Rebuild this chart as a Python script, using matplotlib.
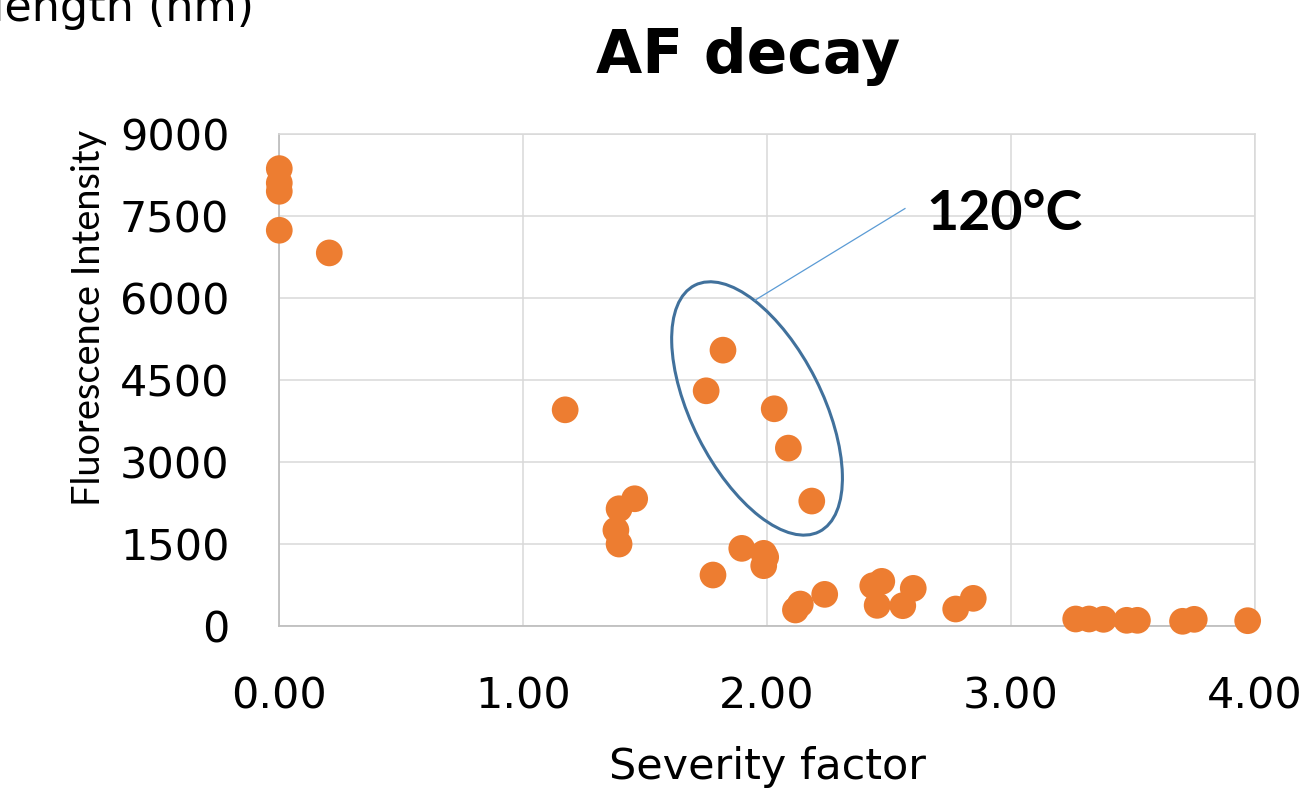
import matplotlib
matplotlib.use("Agg")
import matplotlib.pyplot as plt
from matplotlib.patches import Ellipse
from matplotlib.transforms import ScaledTranslation

# ---- data ----
severity = [0.0, 0.0, 0.0, 0.0, 0.205, 1.172,
            1.819, 1.750, 2.029, 2.087, 2.183,
            1.457, 1.393, 1.380, 1.393, 1.778, 1.896, 1.986, 1.994, 1.986,
            2.116, 2.136, 2.236, 2.433, 2.470, 2.451, 2.599, 2.556, 2.773, 2.845,
            3.265, 3.320, 3.379, 3.474, 3.518, 3.703, 3.751, 3.970]
intensity = [8372, 8109, 7957, 7244, 6829, 3957,
             5049, 4305, 3976, 3256, 2287,
             2329, 2146, 1756, 1500, 933, 1421, 1330, 1260, 1104,
             293, 402, 579, 737, 817, 378, 689, 372, 311, 506,
             128, 128, 122, 104, 104, 86, 122, 97]
x_ticks = [0, 1, 2, 3, 4]
x_tick_labels = ["0.00", "1.00", "2.00", "3.00", "4.00"]
y_ticks = [0, 1500, 3000, 4500, 6000, 7500, 9000]
y_tick_labels = ["0", "1500", "3000", "4500", "6000", "7500", "9000"]
title = "AF decay"
x_label = "Severity factor"
y_label = "Fluorescence Intensity"
note = "120°C"
corner_text = "Wavelength (nm)"

ORANGE = "#ED7D31"
GRID = "#D9D9D9"

plt.rcParams["font.family"] = ["DejaVu Sans"]

fig = plt.figure(figsize=(13.02, 7.91), dpi=100)
ax = fig.add_axes([0.2145, 0.2086, 0.7494, 0.6216])

ax.scatter(severity, intensity, s=370, color=ORANGE, edgecolors="none",
           zorder=3, clip_on=False)

ax.set_xlim(0, 4)
ax.set_ylim(0, 9000)
ax.set_xticks(x_ticks)
ax.set_xticklabels(x_tick_labels)
ax.set_yticks(y_ticks)
ax.set_yticklabels(y_tick_labels)
ax.tick_params(axis="both", length=0, labelsize=31, colors="black")
ax.tick_params(axis="x", pad=36)
ax.tick_params(axis="y", pad=36)
ax.grid(True, color=GRID, linewidth=1.1, zorder=0)
ax.set_axisbelow(True)
for side in ["top", "right"]:
    ax.spines[side].set_color(GRID)
    ax.spines[side].set_linewidth(1.1)
for side in ["left", "bottom"]:
    ax.spines[side].set_color("#BFBFBF")
    ax.spines[side].set_linewidth(1.3)

ax.set_xlabel(x_label, fontsize=31)
ax.xaxis.label.set_va("baseline")
ax.xaxis.set_label_coords(0.5, -0.311)

ylab = ax.set_ylabel(y_label, fontsize=28, family=["Lato", "DejaVu Sans"])
ylab.set_va("baseline")
ax.yaxis.set_label_coords(-0.184, 0.626)
# fit the label length to about 375 px
fig.canvas.draw()
h = ylab.get_window_extent().height
ylab.set_fontsize(28 * 375.0 / h)

ax.set_title(title, fontsize=43, fontweight="bold", x=0.4804, y=1.1084, va="baseline")

# annotation: ellipse, leader line and label
ell_tr = fig.dpi_scale_trans + ScaledTranslation(1.9586, 3982, ax.transData)
ax.add_patch(Ellipse((0, 0), width=2.76, height=1.31, angle=-63.2,
                     fill=False, edgecolor="#41719C", linewidth=2.2,
                     transform=ell_tr, zorder=4, clip_on=False))
ax.plot([1.950, 2.565], [5963, 7641], color="#5B9BD5", linewidth=0.9,
        zorder=4, clip_on=False)
ax.text(2.654, 7244, note, fontsize=40, fontweight="bold",
        family=["Lato", "DejaVu Sans"], va="baseline", ha="left", zorder=5)

# cut-off text from a neighbouring chart at the top-left corner
fig.text(254 / 1302, 1 - 21 / 791, corner_text, fontsize=32,
         ha="right", va="baseline")

fig.savefig("out.png", dpi=100)
